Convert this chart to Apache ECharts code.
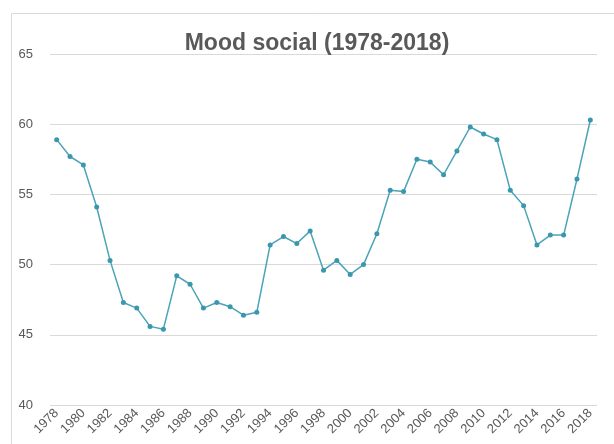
<!DOCTYPE html>
<html>
<head>
<meta charset="utf-8">
<script src="https://cdn.jsdelivr.net/npm/echarts@6/dist/echarts.min.js"></script>
<style>
html, body { margin: 0; padding: 0; background: #fff; }
#chart { width: 614px; height: 444px; }
</style>
</head>
<body>
<div id="chart"></div>
<script>
// Mood social 1978-2018
var years = [];
for (var y = 1978; y <= 2018; y++) years.push(String(y));

var moodValues = [
  58.9, 57.7, 57.1, 54.1, 50.3, 47.3, 46.9, 45.6, 45.4, 49.2,
  48.6, 46.9, 47.3, 47.0, 46.4, 46.6, 51.4, 52.0, 51.5, 52.4,
  49.6, 50.3, 49.3, 50.0, 52.2, 55.3, 55.2, 57.5, 57.3, 56.4,
  58.1, 59.8, 59.3, 58.9, 55.3, 54.2, 51.4, 52.1, 52.1, 56.1,
  60.3
];

var yTicks = { min: 40, max: 65, step: 5 };

var chartDom = document.getElementById('chart');
var myChart = echarts.init(chartDom);
var option = {
  animation: false,
  backgroundColor: '#fff',
  title: {
    text: 'Mood social (1978-2018)',
    left: 312,
    top: 27,
    textAlign: 'center',
    textStyle: {
      fontFamily: 'Liberation Sans, Arial',
      fontSize: 23,
      fontWeight: 'bold',
      color: '#595959'
    }
  },
  graphic: [{
    type: 'rect',
    shape: { x: 11.5, y: 13.5, width: 640, height: 460 },
    style: { fill: 'none', stroke: '#d9d9d9', lineWidth: 1 },
    silent: true,
    z: -1
  }],
  grid: {
    left: 50,
    right: 17,
    top: 54,
    bottom: 39
  },
  xAxis: {
    type: 'category',
    data: years,
    boundaryGap: true,
    axisLine: { show: false },
    axisTick: { show: false },
    axisLabel: {
      interval: 1,
      rotate: 45,
      margin: 6,
      color: '#595959',
      fontFamily: 'Liberation Sans, Arial',
      fontSize: 13
    }
  },
  yAxis: {
    type: 'value',
    min: yTicks.min,
    max: yTicks.max,
    interval: yTicks.step,
    axisLine: { show: false },
    axisTick: { show: false },
    axisLabel: {
      color: '#595959',
      fontFamily: 'Liberation Sans, Arial',
      fontSize: 13,
      margin: 17
    },
    splitLine: {
      lineStyle: { color: '#d9d9d9', width: 1 }
    }
  },
  series: [{
    type: 'line',
    data: moodValues,
    symbol: 'circle',
    symbolSize: 5,
    lineStyle: { color: '#4aa3b8', width: 1.5 },
    itemStyle: { color: '#3a97ae' }
  }]
};
myChart.setOption(option);
</script>
</body>
</html>
